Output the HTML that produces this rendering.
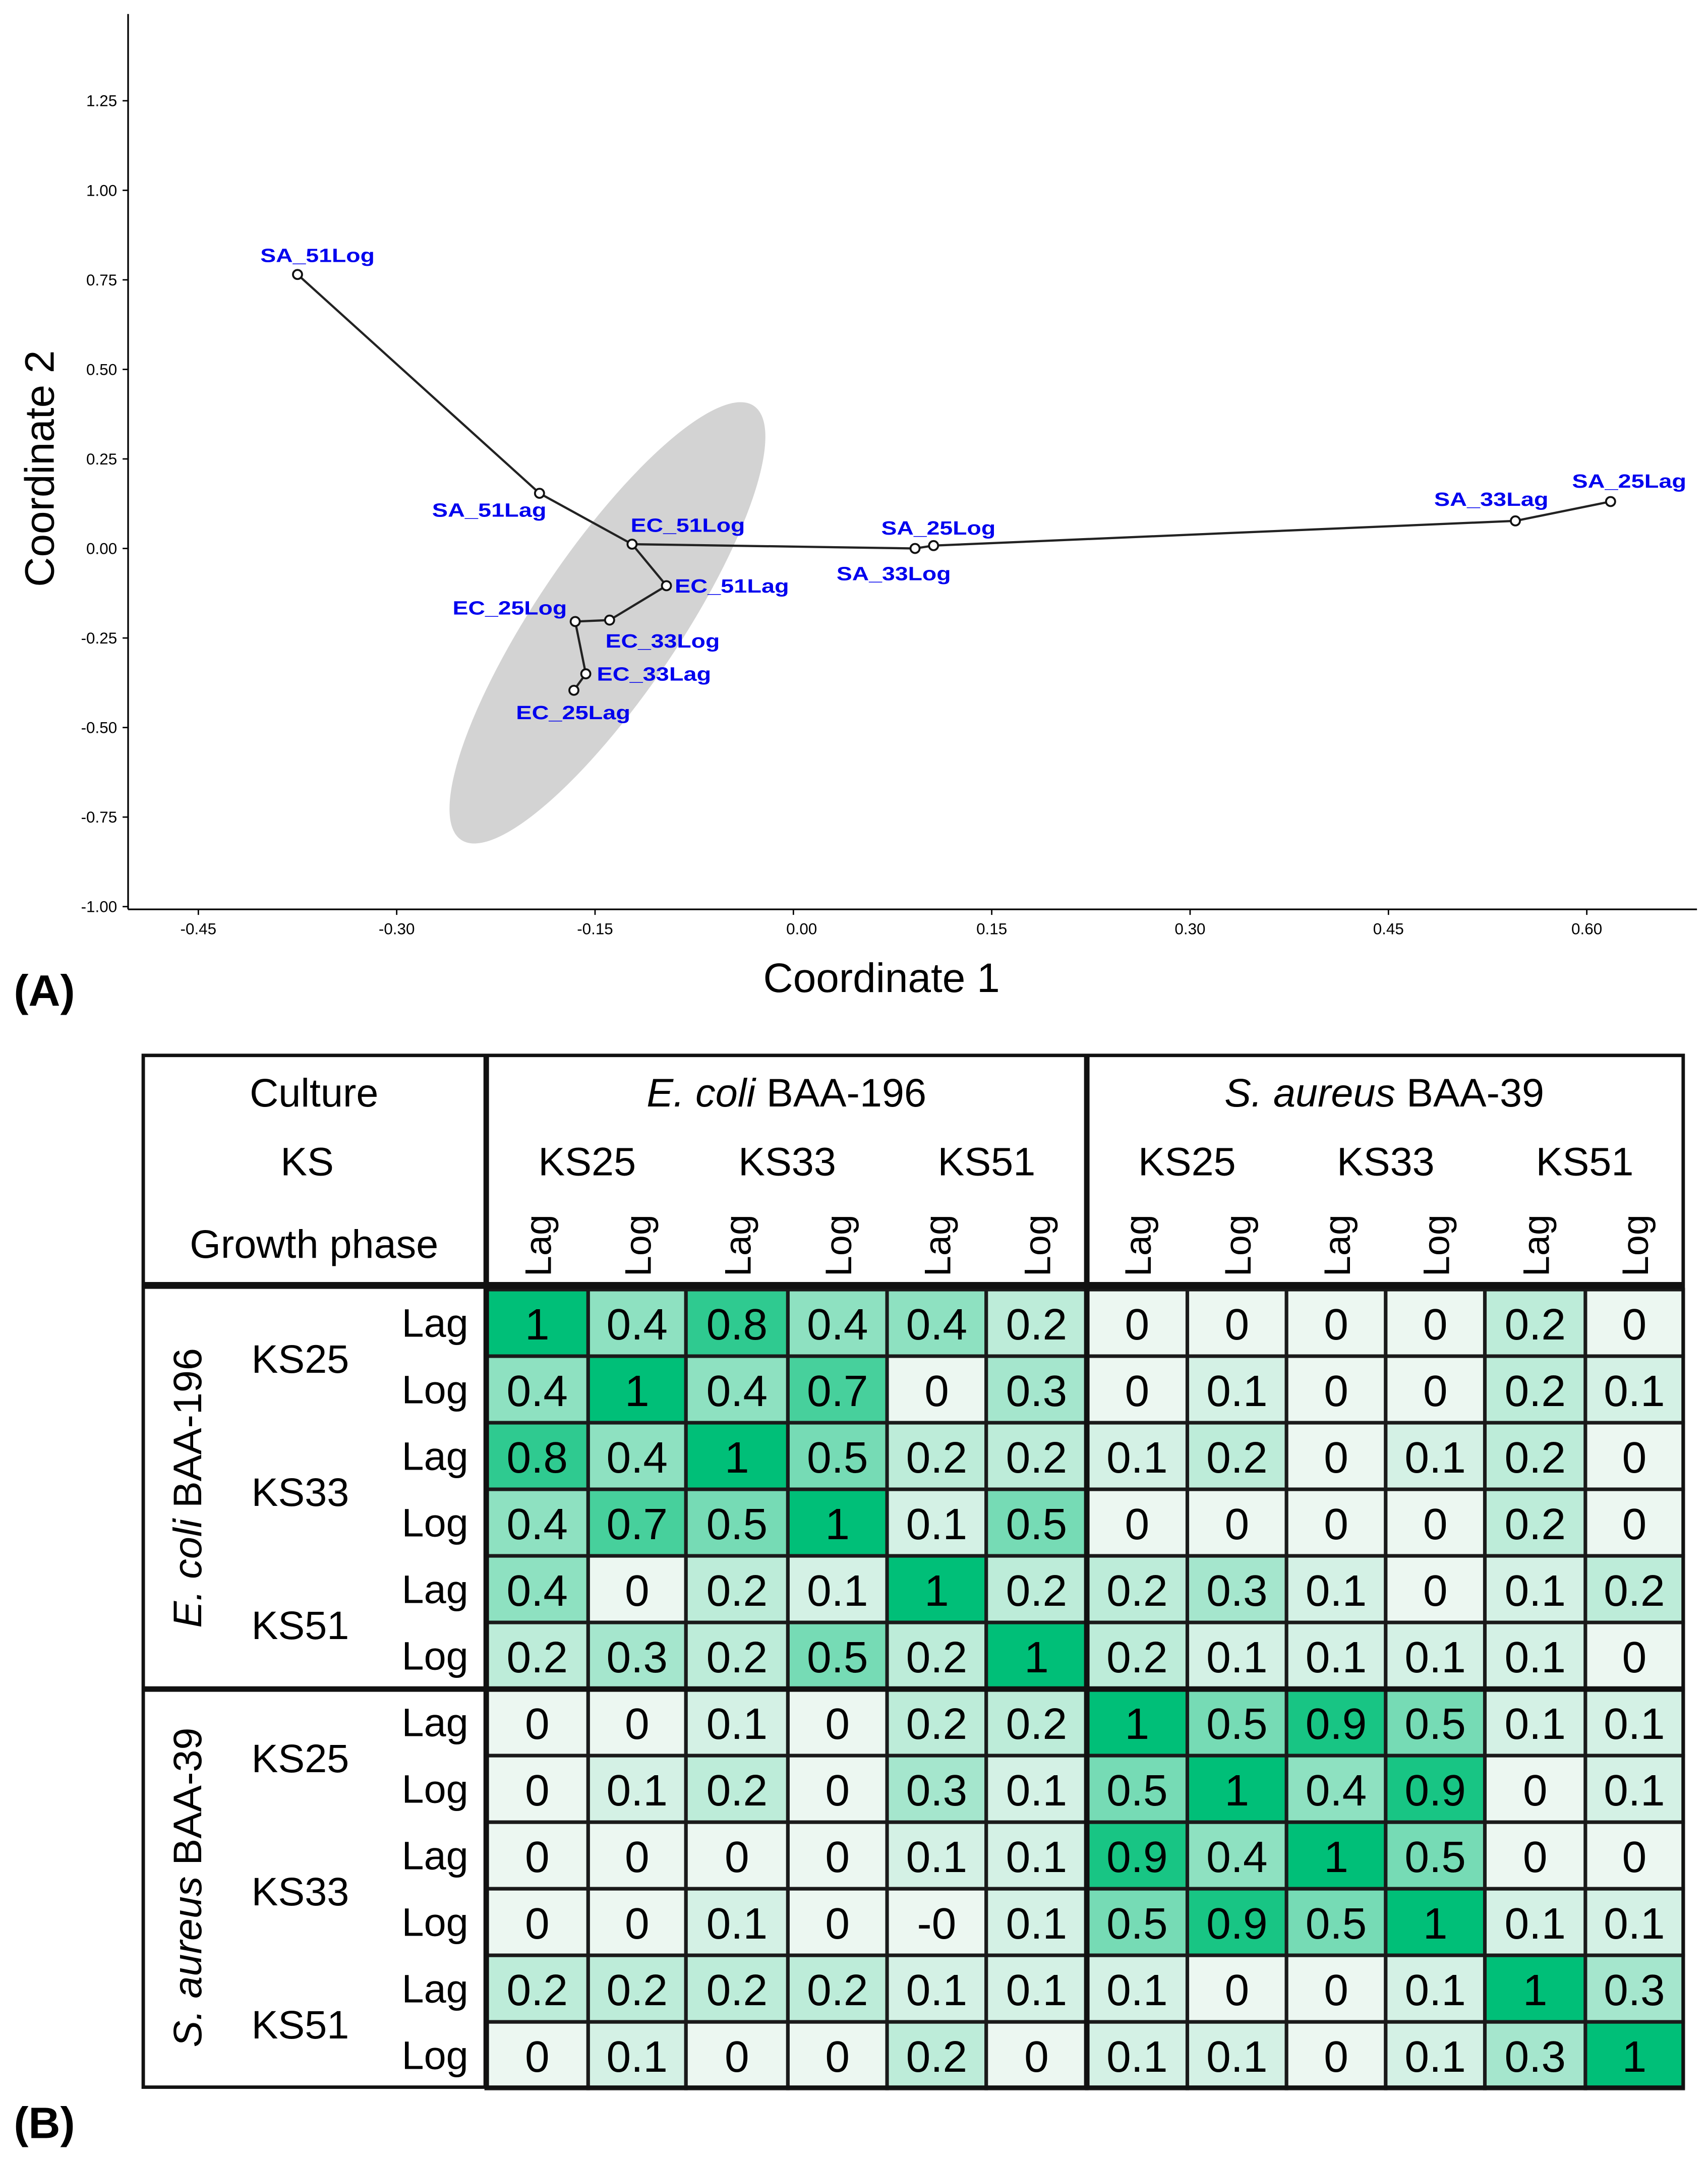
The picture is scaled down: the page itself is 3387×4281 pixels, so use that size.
<!DOCTYPE html>
<html><head><meta charset="utf-8">
<style>
html,body{margin:0;padding:0;background:#fff;}
svg{display:block;}
text{font-family:"Liberation Sans",sans-serif;}
</style></head>
<body>
<svg id="fig" xmlns="http://www.w3.org/2000/svg" width="3387" height="4281" viewBox="0 0 1240 1567">
<rect x="0" y="0" width="1240" height="1567" fill="#fff"/>
<g id="panelA"></g>
<g id="panelB"></g>
</svg>
<script>
// ---------- Panel A data ----------
const pointNames = ["SA_51Log","SA_51Lag","EC_51Log","EC_51Lag","EC_33Log","EC_25Log","EC_33Lag","EC_25Lag","SA_33Log","SA_25Log","SA_33Lag","SA_25Lag"];
const coord1 = [-0.375,-0.192,-0.122,-0.096,-0.139,-0.165,-0.157,-0.166,0.092,0.106,0.546,0.618];
const coord2 = [0.765,0.154,0.012,-0.104,-0.200,-0.204,-0.350,-0.396,0.000,0.008,0.077,0.131];
const edgesFrom = [0,1,2,3,4,5,6,2,8,9,10];
const edgesTo   = [1,2,3,4,5,6,7,8,9,10,11];
const xTicks = [-0.45,-0.30,-0.15,0.00,0.15,0.30,0.45,0.60];
const yTicks = [1.25,1.00,0.75,0.50,0.25,0.00,-0.25,-0.50,-0.75,-1.00];
const labelDx = [-27,-78,-1,6,-3,-89,8,-42,-57,-38,-59,-28];
const labelDy = [-9,17,-9,5,20,-5,5,21,23,-8,-11,-10];

// ---------- Panel B data ----------
const colGroups = ["E. coli BAA-196","S. aureus BAA-39"];
const ksLabels = ["KS25","KS33","KS51"];
const phases = ["Lag","Log"];
const matrix = [
 [1,0.4,0.8,0.4,0.4,0.2,0,0,0,0,0.2,0],
 [0.4,1,0.4,0.7,0,0.3,0,0.1,0,0,0.2,0.1],
 [0.8,0.4,1,0.5,0.2,0.2,0.1,0.2,0,0.1,0.2,0],
 [0.4,0.7,0.5,1,0.1,0.5,0,0,0,0,0.2,0],
 [0.4,0,0.2,0.1,1,0.2,0.2,0.3,0.1,0,0.1,0.2],
 [0.2,0.3,0.2,0.5,0.2,1,0.2,0.1,0.1,0.1,0.1,0],
 [0,0,0.1,0,0.2,0.2,1,0.5,0.9,0.5,0.1,0.1],
 [0,0.1,0.2,0,0.3,0.1,0.5,1,0.4,0.9,0,0.1],
 [0,0,0,0,0.1,0.1,0.9,0.4,1,0.5,0,0],
 [0,0,0.1,0,-0,0.1,0.5,0.9,0.5,1,0.1,0.1],
 [0.2,0.2,0.2,0.2,0.1,0.1,0.1,0,0,0.1,1,0.3],
 [0,0.1,0,0,0.2,0,0.1,0.1,0,0.1,0.3,1]
];
const cellText = [
 ["1","0.4","0.8","0.4","0.4","0.2","0","0","0","0","0.2","0"],
 ["0.4","1","0.4","0.7","0","0.3","0","0.1","0","0","0.2","0.1"],
 ["0.8","0.4","1","0.5","0.2","0.2","0.1","0.2","0","0.1","0.2","0"],
 ["0.4","0.7","0.5","1","0.1","0.5","0","0","0","0","0.2","0"],
 ["0.4","0","0.2","0.1","1","0.2","0.2","0.3","0.1","0","0.1","0.2"],
 ["0.2","0.3","0.2","0.5","0.2","1","0.2","0.1","0.1","0.1","0.1","0"],
 ["0","0","0.1","0","0.2","0.2","1","0.5","0.9","0.5","0.1","0.1"],
 ["0","0.1","0.2","0","0.3","0.1","0.5","1","0.4","0.9","0","0.1"],
 ["0","0","0","0","0.1","0.1","0.9","0.4","1","0.5","0","0"],
 ["0","0","0.1","0","-0","0.1","0.5","0.9","0.5","1","0.1","0.1"],
 ["0.2","0.2","0.2","0.2","0.1","0.1","0.1","0","0","0.1","1","0.3"],
 ["0","0.1","0","0","0.2","0","0.1","0.1","0","0.1","0.3","1"]
];

const NS = "http://www.w3.org/2000/svg";
function mk(tag, attrs, parent, txt){
  const e = document.createElementNS(NS, tag);
  for (const k in attrs) e.setAttribute(k, attrs[k]);
  if (txt !== undefined) e.textContent = txt;
  parent.appendChild(e);
  return e;
}

// ===== Panel A =====
const A = document.getElementById("panelA");
const sx = v => 576 + v*960;
const sy = v => 398 - v*260;

let el;
el = mk("ellipse",{cx:441,cy:452,rx:190,ry:52,transform:"rotate(-56 441 452)",fill:"#d3d3d3"},A);



el = mk("line",{x1:93,y1:10,x2:93,y2:660,stroke:"#000","stroke-width":1.2},A);


el = mk("line",{x1:93,y1:660,x2:1232,y2:660,stroke:"#000","stroke-width":1.2},A);



yTicks.forEach(t=>{
  const y = sy(t);
  el = mk("line",{x1:89,y1:y,x2:93,y2:y,stroke:"#000","stroke-width":1},A);
  
  
  el = mk("text",{x:85,y:y+4,"text-anchor":"end","font-size":11.5,fill:"#000"},A,t.toFixed(2));
  
  
});
xTicks.forEach(t=>{
  const x = sx(t);
  el = mk("line",{x1:x,y1:660,x2:x,y2:664,stroke:"#000","stroke-width":1},A);
  
  
  el = mk("text",{x:x+(t===0?6:0),y:678,"text-anchor":"middle","font-size":11.5,fill:"#000"},A,t.toFixed(2));
  
  
});

el = mk("text",{x:640,y:720,"text-anchor":"middle","font-size":30,fill:"#000"},A,"Coordinate 1");


el = mk("text",{x:0,y:0,"text-anchor":"middle","font-size":30,fill:"#000",transform:"translate(39 340) rotate(-90)"},A,"Coordinate 2");


el = mk("text",{x:10,y:730,"font-size":32,"font-weight":"bold",fill:"#000"},A,"(A)");



edgesFrom.forEach((f,i)=>{
  const t = edgesTo[i];
  el = mk("line",{x1:sx(coord1[f]),y1:sy(coord2[f]),x2:sx(coord1[t]),y2:sy(coord2[t]),stroke:"#222","stroke-width":1.6},A);
  
  
});
pointNames.forEach((n,i)=>{
  const x = sx(coord1[i]), y = sy(coord2[i]);
  el = mk("circle",{cx:x,cy:y,r:3.3,fill:"#fff",stroke:"#111","stroke-width":1.4},A);
  
  
  el = mk("text",{x:x+labelDx[i],y:y+labelDy[i],"font-size":14,"font-weight":"bold",fill:"#0000ee",textLength:83,lengthAdjust:"spacingAndGlyphs"},A,n);
  
  
});

// ===== Panel B =====
const B = document.getElementById("panelB");
const colEdges = [353,427,498,572,644,716,789,862,934,1006,1078,1151,1222];
const rowTop = 936, rowH = 48.33;
const cx = i => (colEdges[i]+colEdges[i+1])/2;
const ry = r => rowTop + r*rowH;
function col(v){
  const t = Math.max(0, Math.min(1, v));
  const a=[236,247,241], b=[0,191,120];
  const c = a.map((x,k)=>Math.round(x + (b[k]-x)*t));
  return "rgb("+c.join(",")+")";
}

for (let r=0;r<12;r++){
  for (let c=0;c<12;c++){
    const v = matrix[r][c];
    el = mk("rect",{x:colEdges[c],y:ry(r),width:colEdges[c+1]-colEdges[c],height:rowH,fill:col(v),stroke:"#1a1a1a","stroke-width":2.6},B);
    
    
    el = mk("text",{x:cx(c),y:ry(r)+rowH/2+12,"text-anchor":"middle","font-size":32,fill:"#000"},B,cellText[r][c]);
    
    
  }
}

el = mk("rect",{x:104,y:766,width:1118,height:749,fill:"none",stroke:"#111","stroke-width":2.5},B);


el = mk("line",{x1:104,y1:933,x2:1222,y2:933,stroke:"#111","stroke-width":5},B);


el = mk("line",{x1:104,y1:1226,x2:1222,y2:1226,stroke:"#111","stroke-width":4},B);


el = mk("line",{x1:353,y1:766,x2:353,y2:1515,stroke:"#111","stroke-width":4},B);


el = mk("line",{x1:789,y1:766,x2:789,y2:1515,stroke:"#111","stroke-width":4},B);



[["Culture",228,803],["KS",223,853],["Growth phase",228,913]].forEach(h=>{
  el = mk("text",{x:h[1],y:h[2],"text-anchor":"middle","font-size":29,fill:"#000"},B,h[0]);
  
  
});
function speciesText(parent, x, y, name, attrs){
  const parts = name.split(" ");
  const t = mk("text",Object.assign({x:x,y:y,"text-anchor":"middle","font-size":29,fill:"#000"},attrs||{}),parent);
  mk("tspan",{"font-style":"italic"},t,parts[0]+" "+parts[1]);
  mk("tspan",{},t," "+parts.slice(2).join(" "));
  return t;
}
el = speciesText(B,571,803,colGroups[0]);


el = speciesText(B,1005,803,colGroups[1]);



for (let g=0; g<2; g++){
  for (let k=0;k<3;k++){
    const c0 = g*6 + k*2;
    const x = (cx(c0)+cx(c0+1))/2;
    el = mk("text",{x:x,y:853,"text-anchor":"middle","font-size":29,fill:"#000"},B,ksLabels[k]);
    
    
    for (let p=0;p<2;p++){
      el = mk("text",{x:0,y:0,"text-anchor":"middle","font-size":27,fill:"#000",transform:"translate("+(cx(c0+p)+10)+" 904) rotate(-90)"},B,phases[p]);
      
      
    }
  }
}

el = speciesText(B,0,0,colGroups[0],{transform:"translate(146 1080) rotate(-90)"});


el = speciesText(B,0,0,colGroups[1],{transform:"translate(146 1370) rotate(-90)"});


for (let g=0; g<2; g++){
  for (let k=0;k<3;k++){
    const r0 = g*6 + k*2;
    el = mk("text",{x:218,y:ry(r0)+rowH+12,"text-anchor":"middle","font-size":29,fill:"#000"},B,ksLabels[k]);
    
    
    for (let p=0;p<2;p++){
      el = mk("text",{x:340,y:ry(r0+p)+rowH/2+10,"text-anchor":"end","font-size":29,fill:"#000"},B,phases[p]);
      
      
    }
  }
}
el = mk("text",{x:10,y:1552,"font-size":32,"font-weight":"bold",fill:"#000"},B,"(B)");


</script>
</body></html>
